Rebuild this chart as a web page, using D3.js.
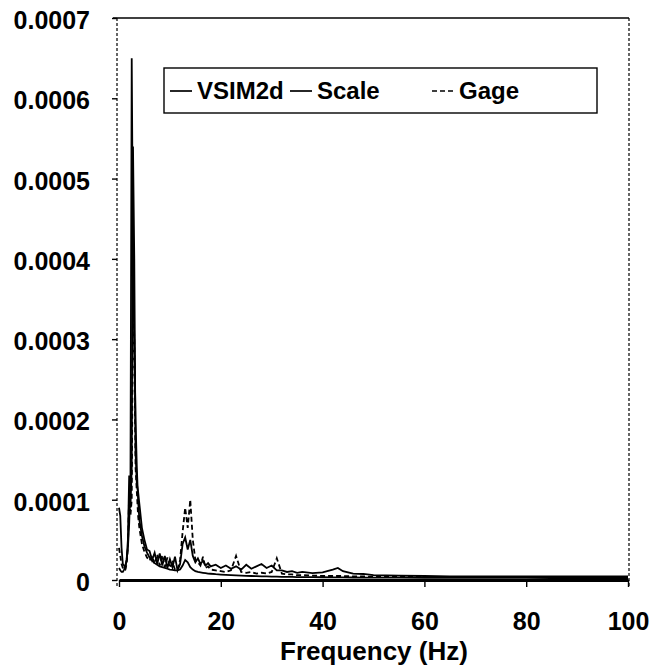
<!DOCTYPE html>
<html>
<head>
<meta charset="utf-8">
<script src="https://cdn.jsdelivr.net/npm/d3@7"></script>
<style>
  body { margin: 0; background: #fff; }
  svg { display: block; }
</style>
</head>
<body>
<svg id="chart"></svg>
<script>
// amplitude values are in units of 1e-5
const freq = [0,0.25,0.5,0.75,1,1.25,1.5,1.75,2,2.25,2.5,2.75,3,3.25,3.5,3.75,4,
  4.5,5,5.5,6,6.5,7,7.5,8,8.5,9,9.5,10,10.5,11,11.5,12,12.5,13,13.5,14,14.5,15,15.5,16,16.5,17,17.5,18,
  19,20,21,22,23,24,25,26,27,28,29,30,31,32,33,34,35,36,
  38,40,42,43,44,46,48,50,
  55,60,65,70,75,80,85,90,95,100]

const vsim2d = [1.5,1.2,1.0,1.0,1.3,1.8,2.5,4,7,12,65,40,30,20,14,10,7.5,
  5.5,4.2,3.4,2.8,2.4,2.1,1.9,1.7,1.6,1.5,1.4,1.3,1.25,1.2,1.2,1.3,1.8,2.5,2.2,1.6,1.3,1.1,1.0,0.95,0.9,0.85,0.8,0.78,
  0.72,0.68,0.64,0.6,0.57,0.54,0.52,0.5,0.48,0.46,0.44,0.42,0.41,0.4,0.39,0.38,0.37,0.36,
  0.35,0.34,0.33,0.33,0.32,0.31,0.3,0.3,
  0.29,0.28,0.27,0.27,0.26,0.26,0.25,0.25,0.25,0.25]

const scale = [9,8,4,2,1.8,1.5,2.5,5,13,9,14,54,40,16,12,11,9.5,
  6.5,5,3.8,3.6,2.5,3.4,2.0,3.3,1.8,3.0,1.5,2.6,1.6,2.9,1.2,2.0,4.5,5.3,3.8,5.0,3.0,2.2,2.7,2.0,2.4,1.8,2.1,1.7,
  1.9,1.5,1.8,1.4,1.7,1.3,1.9,1.4,1.7,2.0,1.5,1.8,1.2,1.2,1.0,1.1,0.9,1.0,
  0.85,0.95,1.3,1.5,1.1,0.8,0.75,0.6,
  0.55,0.5,0.45,0.45,0.45,0.45,0.45,0.45,0.45,0.45]

const gage = [4,3,2,1.5,1.2,1.3,2,4,11,8,10,35,30,14,11,8,6.5,
  4.5,3.5,2.8,2.4,3.0,2.0,3.2,1.8,3.1,1.6,2.8,1.5,2.2,1.3,1.2,2.5,6,9,6.5,10,5,2.5,2.2,1.8,2.9,1.5,1.7,1.3,
  1.2,1.1,1.0,1.2,3.0,1.0,0.9,1.0,0.8,0.9,0.8,1.0,2.7,0.8,0.7,0.7,0.6,0.6,
  0.55,0.5,0.5,0.5,0.5,0.45,0.45,0.4,
  0.4,0.38,0.35,0.35,0.35,0.35,0.35,0.35,0.35,0.35]

const xTicks = [0,20,40,60,80,100]
const yTicks = [0,0.0001,0.0002,0.0003,0.0004,0.0005,0.0006,0.0007]

const width = 655
const height = 667
const font = "'Liberation Sans', Arial, sans-serif"

const svg = d3.select("#chart")
  .attr("width", width)
  .attr("height", height)

const x = d3.scaleLinear().domain([0, 100]).range([119, 628])
const y = d3.scaleLinear().domain([0, 0.0007]).range([580, 18])

// frame: solid top, dashed sides
svg.append("line")
  .attr("x1", 113).attr("x2", 629).attr("y1", 18).attr("y2", 18)
  .attr("stroke", "#000").attr("stroke-width", 1.6)
svg.append("line")
  .attr("x1", 117).attr("x2", 117).attr("y1", 18).attr("y2", 588)
  .attr("stroke", "#000").attr("stroke-width", 1.2).attr("stroke-dasharray", "3,2")
svg.append("line")
  .attr("x1", 629).attr("x2", 629).attr("y1", 18).attr("y2", 588)
  .attr("stroke", "#000").attr("stroke-width", 1.2).attr("stroke-dasharray", "3,2")

const yAxis = svg.append("g")
  .attr("transform", "translate(117,0)")
  .call(d3.axisLeft(y).tickValues(yTicks).tickSize(5).tickPadding(22)
    .tickFormat(d => d === 0 ? "0" : d3.format(".4f")(d)))
yAxis.select(".domain").remove()
yAxis.selectAll("line").attr("stroke-width", 1.4)
yAxis.selectAll("text")
  .style("font", `bold 25px ${font}`)
  .attr("dy", "0.42em")
  .attr("fill", "#000")

const xAxis = svg.append("g")
  .attr("transform", "translate(0,580)")
  .call(d3.axisBottom(x).tickValues(xTicks).tickSize(7).tickSizeOuter(0))
xAxis.select(".domain").attr("stroke-width", 3)
xAxis.selectAll("line").attr("stroke-width", 1.4)
xAxis.selectAll("text")
  .style("font", `bold 25px ${font}`)
  .attr("y", 50).attr("dy", null)
  .attr("fill", "#000")

svg.append("text")
  .attr("x", 374).attr("y", 660)
  .attr("text-anchor", "middle")
  .style("font", `bold 26px ${font}`)
  .text("Frequency (Hz)")

const series = [
  {name: "VSIM2d", values: vsim2d, dash: null},
  {name: "Scale", values: scale, dash: null},
  {name: "Gage", values: gage, dash: "5,3"}
]

const line = d3.line()
  .x((d, i) => x(freq[i]))
  .y(d => y(d * 1e-5))

svg.append("g")
  .selectAll("path")
  .data(series)
  .join("path")
  .attr("d", d => line(d.values))
  .attr("fill", "none")
  .attr("stroke", "#000")
  .attr("stroke-width", 1.8)
  .attr("stroke-dasharray", d => d.dash)

// legend
const lg = svg.append("g")
lg.append("rect")
  .attr("x", 164).attr("y", 68).attr("width", 433).attr("height", 45)
  .attr("fill", "#fff").attr("stroke", "#000").attr("stroke-width", 1.4)

const legendItems = [
  {name: "VSIM2d", x: 170, dash: null},
  {name: "Scale", x: 290, dash: null},
  {name: "Gage", x: 432, dash: "5,3"}
]
const item = lg.selectAll("g.item")
  .data(legendItems)
  .join("g")
  .attr("class", "item")
  .attr("transform", d => `translate(${d.x},99)`)
item.append("line")
  .attr("x1", 0).attr("x2", 22).attr("y1", -8).attr("y2", -8)
  .attr("stroke", "#000").attr("stroke-width", 1.7)
  .attr("stroke-dasharray", d => d.dash)
item.append("text")
  .attr("x", 27).attr("y", 0)
  .style("font", `bold 24px ${font}`)
  .text(d => d.name)
</script>
</body>
</html>
